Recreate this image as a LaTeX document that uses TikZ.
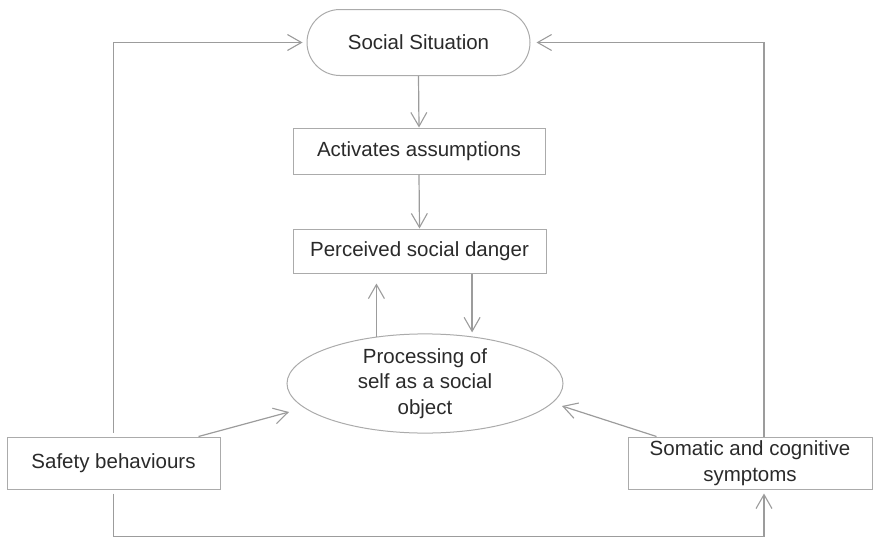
\documentclass[tikz,border=0pt]{standalone}
\usepackage{fontspec}
\setmainfont{Liberation Sans}
\usetikzlibrary{arrows.meta,shapes.geometric}
\definecolor{edgegray}{HTML}{ABABAB}
\definecolor{linegray}{HTML}{9C9C9C}
\definecolor{inkgray}{HTML}{2A2A2A}
\begin{document}
\begin{tikzpicture}[x=1pt,y=-1pt,
  txt/.style={text=inkgray,font=\fontsize{20.5}{25.5}\selectfont,align=center,inner sep=0pt},
  boxnode/.style={txt,draw=edgegray,line width=1pt,rectangle},
  flow/.style={draw=linegray,line width=1.2pt,-{Straight Barb[length=14pt,width=16pt,line width=1.1pt]}},
  plain/.style={draw=linegray,line width=1.2pt}]
\useasboundingbox (0,0) rectangle (873,538);

% nodes
\node[boxnode,rounded corners=33pt,minimum width=223pt,minimum height=66pt] (soc) at (418.5,42.5) {Social Situation};
\node[boxnode,minimum width=252pt,minimum height=46pt] (act) at (419,151) {Activates assumptions};
\node[boxnode,minimum width=253pt,minimum height=44pt] (per) at (419.5,251) {Perceived social danger};
\node[txt,draw=edgegray,line width=1pt,ellipse,minimum width=276pt,minimum height=97pt] (proc) at (425,383.5) {Processing of\\self as a social\\object};
\node[boxnode,minimum width=213pt,minimum height=52pt] (safe) at (113.5,463) {Safety behaviours};
\node[boxnode,minimum width=244pt,minimum height=52pt] (som) at (750,463) {Somatic and cognitive\\symptoms};

% arrow tips that stop short of the ellipse
\coordinate (sbtip) at (289,412);
\coordinate (smtip) at (562,406);

% main chain
\draw[flow] (soc.south) -- (act.north);
\draw[flow] (act.south) -- (per.north);
\draw[flow,shorten >=10pt] (proc.136) -- (proc.136 |- per.south);
\draw[flow,shorten >=4pt] (per.south -| proc.45.5) -- (proc.45.5);

% into the ellipse
\draw[flow] ([xshift=-22pt]safe.north east) -- (sbtip);
\draw[flow] ([xshift=29pt]som.north west) -- (smtip);

% feedback loops
\draw[flow,shorten <=4pt,shorten >=4pt] (safe.north) |- (soc.west);
\draw[flow,shorten >=6pt] ([xshift=14pt]som.north) |- (soc.east);
\draw[flow,shorten <=4pt,shorten >=4pt] (safe.south) |- ([xshift=14pt,yshift=-47pt]som.south) -- ([xshift=14pt]som.south);
\end{tikzpicture}
\end{document}
